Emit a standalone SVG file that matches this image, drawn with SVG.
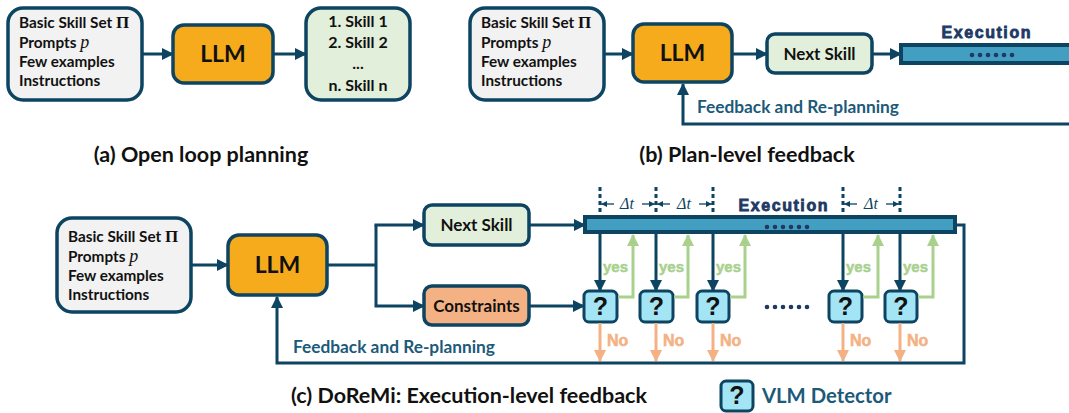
<svg xmlns="http://www.w3.org/2000/svg" width="1069" height="413" viewBox="0 0 1069 413">
<defs>
<marker id="ad" markerUnits="userSpaceOnUse" markerWidth="12" markerHeight="12" refX="11" refY="6" orient="auto"><path d="M0,0 L12,6 L0,12 z" fill="#0d4462"/></marker>
<marker id="ag" markerUnits="userSpaceOnUse" markerWidth="12" markerHeight="12" refX="11" refY="6" orient="auto"><path d="M0,0 L12,6 L0,12 z" fill="#a9d18e"/></marker>
<marker id="ao" markerUnits="userSpaceOnUse" markerWidth="12" markerHeight="12" refX="11" refY="6" orient="auto"><path d="M0,0 L12,6 L0,12 z" fill="#f4b183"/></marker>
<marker id="as" markerUnits="userSpaceOnUse" markerWidth="6" markerHeight="6" refX="6" refY="3" orient="auto"><path d="M0,0 L6,3 L0,6 z" fill="#0d4462"/></marker>
</defs>
<style>
.box{stroke:#0d4462;stroke-width:3.5}
.in{fill:#f2f2f2}
.llm{fill:#f5ab1c}
.grn{fill:#e2efda}
.org{fill:#f4b183}
.q{fill:#a3e4f5;stroke:#0d4462;stroke-width:3}
.t{font-family:Lato,"Liberation Sans",sans-serif;font-weight:bold;fill:#111}
.ln{stroke:#0d4462;stroke-width:3;fill:none}
.gl{stroke:#a9d18e;stroke-width:3;fill:none}
.ol{stroke:#f4b183;stroke-width:3;fill:none}
.fb{font-family:Lato,"Liberation Sans",sans-serif;font-weight:bold;fill:#1c5a7a;font-size:17.3px}
.ex{font-family:"Liberation Sans",Arial,sans-serif;font-weight:900;fill:#203864;stroke:#203864;stroke-width:0.8;font-size:16px}
.bar{fill:#429fc1;stroke:#0d4462;stroke-width:4}
.dot{fill:#203864}
.cap{font-family:Lato,"Liberation Sans",sans-serif;font-weight:bold;fill:#111;font-size:21.5px}
.m{font-family:"Liberation Serif","DejaVu Serif",serif;font-weight:bold;font-size:17px}
.mi{font-family:"Liberation Serif","DejaVu Serif",serif;font-style:italic;font-weight:normal;font-size:18px}
.dash{stroke:#0d4462;stroke-width:3;stroke-dasharray:4 3;fill:none}
.yes{font-family:"Liberation Sans",Arial,sans-serif;font-weight:bold;fill:#a9d18e;stroke:#a9d18e;stroke-width:0.5;font-size:15px}
.no{font-family:"Liberation Sans",Arial,sans-serif;font-weight:bold;fill:#f4b183;stroke:#f4b183;stroke-width:0.5;font-size:16px}
.qm{font-family:"Liberation Sans",Arial,sans-serif;font-weight:bold;fill:#111;font-size:25px}
</style>

<!-- Panel (a) -->
<g id="a-input"><rect class="box in" x="8" y="8" width="134" height="92" rx="15"/>
<text class="t" font-size="15.3"><tspan x="19" y="28">Basic Skill Set <tspan class="m">Π</tspan></tspan><tspan x="19" y="48">Prompts <tspan class="mi">p</tspan></tspan><tspan x="19" y="67">Few examples</tspan><tspan x="19" y="86">Instructions</tspan></text></g>
<g id="a-llm"><rect class="box llm" x="173" y="25" width="100" height="58" rx="11"/><text class="t" font-size="23" x="223" y="62" text-anchor="middle">LLM</text></g>
<g id="a-out"><rect class="box grn" x="306" y="8" width="104" height="92" rx="15"/>
<text class="t" font-size="16" text-anchor="middle"><tspan x="358" y="27">1. Skill 1</tspan><tspan x="358" y="48">2. Skill 2</tspan><tspan x="358" y="69">...</tspan><tspan x="358" y="91">n. Skill n</tspan></text></g>
<g id="a-conn"><line class="ln" x1="142" y1="54" x2="173" y2="54" marker-end="url(#ad)"/><line class="ln" x1="273" y1="54" x2="306" y2="54" marker-end="url(#ad)"/></g>
<text class="cap" x="201" y="162" text-anchor="middle">(a) Open loop planning</text>

<!-- Panel (b) -->
<g id="b-input"><rect class="box in" x="470" y="8" width="134" height="92" rx="15"/>
<text class="t" font-size="15.3"><tspan x="481" y="28">Basic Skill Set <tspan class="m">Π</tspan></tspan><tspan x="481" y="48">Prompts <tspan class="mi">p</tspan></tspan><tspan x="481" y="67">Few examples</tspan><tspan x="481" y="86">Instructions</tspan></text></g>
<g id="b-llm"><rect class="box llm" x="633" y="24" width="99" height="58" rx="11"/><text class="t" font-size="23" x="682.5" y="61" text-anchor="middle">LLM</text></g>
<g id="b-next"><rect class="box grn" x="767" y="34" width="105" height="39" rx="8"/><text class="t" font-size="17" x="819.5" y="59.5" text-anchor="middle">Next Skill</text></g>
<g id="b-exec"><rect class="bar" x="901" y="45" width="180" height="18"/>
<text class="ex" x="986" y="38" text-anchor="middle" textLength="89">Execution</text>
<g class="dot"><circle cx="972" cy="55" r="2.3"/><circle cx="980" cy="55" r="2.3"/><circle cx="988" cy="55" r="2.3"/><circle cx="996" cy="55" r="2.3"/><circle cx="1004" cy="55" r="2.3"/><circle cx="1012" cy="55" r="2.3"/></g></g>
<g id="b-conn"><line class="ln" x1="604" y1="54" x2="633" y2="54" marker-end="url(#ad)"/><line class="ln" x1="732" y1="54" x2="767" y2="54" marker-end="url(#ad)"/><line class="ln" x1="872" y1="54" x2="901" y2="54" marker-end="url(#ad)"/>
<polyline class="ln" points="1069,124 683,124 683,84" marker-end="url(#ad)"/></g>
<text class="fb" x="697" y="113">Feedback and Re-planning</text>
<text class="cap" x="747" y="162" text-anchor="middle">(b) Plan-level feedback</text>

<!-- Panel (c) -->
<g id="c-input"><rect class="box in" x="57" y="218" width="134" height="94" rx="15"/>
<text class="t" font-size="15.3"><tspan x="68" y="242">Basic Skill Set <tspan class="m">Π</tspan></tspan><tspan x="68" y="262">Prompts <tspan class="mi">p</tspan></tspan><tspan x="68" y="281">Few examples</tspan><tspan x="68" y="300">Instructions</tspan></text></g>
<g id="c-llm"><rect class="box llm" x="228" y="235" width="99" height="60" rx="11"/><text class="t" font-size="23" x="277.5" y="273" text-anchor="middle">LLM</text></g>
<g id="c-next"><rect class="box grn" x="424" y="205" width="105" height="40" rx="8"/><text class="t" font-size="17" x="476.5" y="231" text-anchor="middle">Next Skill</text></g>
<g id="c-cons"><rect class="box org" x="424" y="286" width="105" height="39" rx="8"/><text class="t" font-size="17" x="476.5" y="312" text-anchor="middle">Constraints</text></g>
<g id="c-exec"><rect class="bar" x="585" y="217" width="370" height="15"/>
<text class="ex" x="783" y="211" text-anchor="middle" textLength="89">Execution</text>
<g class="dot"><circle cx="767" cy="227" r="2.3"/><circle cx="775" cy="227" r="2.3"/><circle cx="783" cy="227" r="2.3"/><circle cx="791" cy="227" r="2.3"/><circle cx="799" cy="227" r="2.3"/><circle cx="807" cy="227" r="2.3"/></g></g>
<g id="c-dt">
<line class="dash" x1="600" y1="187" x2="600" y2="215"/><line class="dash" x1="656" y1="187" x2="656" y2="215"/><line class="dash" x1="713" y1="187" x2="713" y2="215"/><line class="dash" x1="843" y1="187" x2="843" y2="215"/><line class="dash" x1="900" y1="187" x2="900" y2="215"/>
<g stroke="#0d4462" stroke-width="1.3">
<line x1="614" y1="204" x2="601" y2="204" marker-end="url(#as)"/><line x1="642" y1="204" x2="655" y2="204" marker-end="url(#as)"/>
<line x1="670" y1="204" x2="657" y2="204" marker-end="url(#as)"/><line x1="699" y1="204" x2="712" y2="204" marker-end="url(#as)"/>
<line x1="857" y1="204" x2="844" y2="204" marker-end="url(#as)"/><line x1="886" y1="204" x2="899" y2="204" marker-end="url(#as)"/></g>
<g font-family="Liberation Serif,DejaVu Serif,serif" font-style="italic" font-size="16" fill="#0d4462" text-anchor="middle"><text x="627" y="209">Δt</text><text x="684" y="209">Δt</text><text x="871" y="209">Δt</text></g></g>
<g id="c-det1"><rect class="q" x="584" y="291" width="33" height="31" rx="5"/><text class="qm" x="600.5" y="315" text-anchor="middle">?</text></g>
<g id="c-det2"><rect class="q" x="640" y="291" width="33" height="31" rx="5"/><text class="qm" x="656.5" y="315" text-anchor="middle">?</text></g>
<g id="c-det3"><rect class="q" x="697" y="291" width="32" height="31" rx="5"/><text class="qm" x="713" y="315" text-anchor="middle">?</text></g>
<g id="c-det4"><rect class="q" x="829" y="291" width="33" height="31" rx="5"/><text class="qm" x="845.5" y="315" text-anchor="middle">?</text></g>
<g id="c-det5"><rect class="q" x="885" y="291" width="32" height="31" rx="5"/><text class="qm" x="901" y="315" text-anchor="middle">?</text></g>
<g class="dot"><circle cx="767" cy="307" r="2.3"/><circle cx="775" cy="307" r="2.3"/><circle cx="783" cy="307" r="2.3"/><circle cx="791" cy="307" r="2.3"/><circle cx="799" cy="307" r="2.3"/><circle cx="807" cy="307" r="2.3"/></g>
<g id="c-conn">
<line class="ln" x1="191" y1="265" x2="228" y2="265" marker-end="url(#ad)"/>
<polyline class="ln" points="327,265 376,265"/>
<polyline class="ln" points="376,225 376,306 424,306" marker-end="url(#ad)"/>
<line class="ln" x1="374.5" y1="225" x2="424" y2="225" marker-end="url(#ad)"/>
<line class="ln" x1="529" y1="225" x2="585" y2="225" marker-end="url(#ad)"/>
<line class="ln" x1="529" y1="306" x2="584" y2="306" marker-end="url(#ad)"/>
<line class="ln" x1="600" y1="234" x2="600" y2="291" marker-end="url(#ad)"/>
<line class="ln" x1="656" y1="234" x2="656" y2="291" marker-end="url(#ad)"/>
<line class="ln" x1="713" y1="234" x2="713" y2="291" marker-end="url(#ad)"/>
<line class="ln" x1="843" y1="234" x2="843" y2="291" marker-end="url(#ad)"/>
<line class="ln" x1="900" y1="234" x2="900" y2="291" marker-end="url(#ad)"/>
<polyline class="gl" points="618,297 633,297 633,235" marker-end="url(#ag)"/>
<polyline class="gl" points="674,297 688,297 688,235" marker-end="url(#ag)"/>
<polyline class="gl" points="730,297 745,297 745,235" marker-end="url(#ag)"/>
<polyline class="gl" points="863,297 878,297 878,235" marker-end="url(#ag)"/>
<polyline class="gl" points="918,297 933,297 933,235" marker-end="url(#ag)"/>
<line class="ol" x1="600" y1="323" x2="600" y2="361" marker-end="url(#ao)"/>
<line class="ol" x1="656" y1="323" x2="656" y2="361" marker-end="url(#ao)"/>
<line class="ol" x1="713" y1="323" x2="713" y2="361" marker-end="url(#ao)"/>
<line class="ol" x1="843" y1="323" x2="843" y2="361" marker-end="url(#ao)"/>
<line class="ol" x1="900" y1="323" x2="900" y2="361" marker-end="url(#ao)"/>
<polyline class="ln" points="957,225 964,225 964,363 277,363 277,297" marker-end="url(#ad)"/>
</g>
<g class="yes"><text x="603" y="272">yes</text><text x="659" y="272">yes</text><text x="716" y="272">yes</text><text x="846" y="272">yes</text><text x="903" y="272">yes</text></g>
<g class="no"><text x="607" y="346">No</text><text x="663" y="346">No</text><text x="720" y="346">No</text><text x="850" y="346">No</text><text x="907" y="346">No</text></g>
<text class="fb" x="293" y="353">Feedback and Re-planning</text>
<text class="cap" x="469" y="403" text-anchor="middle">(c) DoReMi: Execution-level feedback</text>
<g id="legend"><rect class="q" x="721" y="381" width="32" height="30" rx="5"/><text class="qm" x="737" y="404" text-anchor="middle">?</text>
<text class="fb" style="font-size:20.3px" x="762" y="403">VLM Detector</text></g>
</svg>
